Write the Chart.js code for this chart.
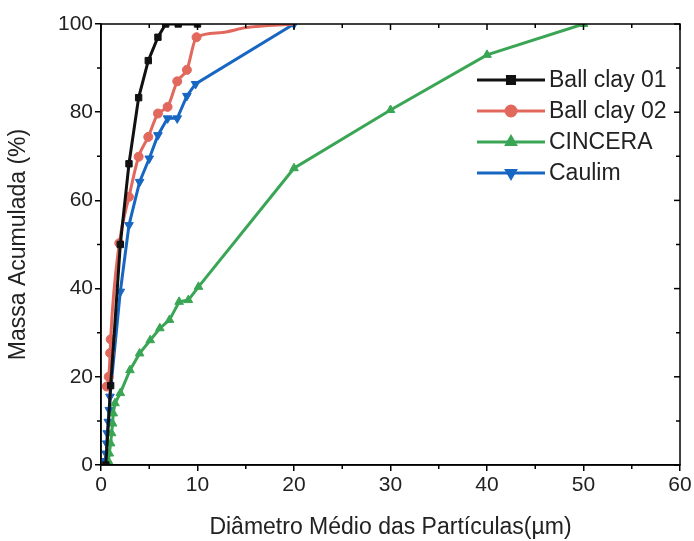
<!DOCTYPE html>
<html>
<head>
<meta charset="utf-8">
<script src="https://cdn.jsdelivr.net/npm/chart.js@4"></script>
<style>
  body { margin: 0; background: #fff; }
  #wrap { width: 694px; height: 541px; }
</style>
</head>
<body>
<div id="wrap"><canvas id="psdChart" width="694" height="541"></canvas></div>
<script>
// Werte
const seriesNames = ["Ball clay 01", "Ball clay 02", "CINCERA", "Caulim"];

const ballClay01X = [0.5, 1, 2, 2.9, 3.9, 4.9, 5.9, 6.7, 8, 10];
const ballClay01Y = [0, 18, 50, 68.3, 83.3, 91.7, 97, 100, 100, 100];

// letzte drei Punkte nur Kurvenverlauf, ohne Marker
const ballClay02X = [0.6, 0.8, 0.95, 1.0, 1.9, 2.9, 3.9, 4.9, 5.9, 6.9, 7.9, 8.9, 9.9, 12.3, 15.1, 20];
const ballClay02Y = [17.8, 20, 25.4, 28.5, 50.3, 60.8, 69.9, 74.4, 79.7, 81.2, 87, 89.6, 97, 98, 99.2, 100];
const ballClay02Marker = [1, 1, 1, 1, 1, 1, 1, 1, 1, 1, 1, 1, 1, 0, 0, 0];

const cinceraX = [0.76, 0.86, 1.0, 1.1, 1.2, 1.27, 1.45, 2.0, 3.0, 4.0, 5.1, 6.1, 7.1, 8.1, 9.05, 10.1, 20, 30, 40, 50];
const cinceraY = [0.9, 2.6, 4.9, 7.2, 9.4, 11.7, 14, 16.3, 21.5, 25.3, 28.3, 31, 32.9, 37, 37.4, 40.4, 67.3, 80.5, 93, 100];

const caulimX = [0.41, 0.52, 0.59, 0.65, 0.76, 0.86, 0.93, 2.0, 2.9, 4.0, 5.0, 5.9, 6.9, 7.9, 8.9, 9.8, 20];
const caulimY = [0.9, 2.6, 4.9, 7.2, 9.8, 12.5, 15.5, 39.3, 54.4, 64.2, 69.5, 74.8, 78.6, 78.6, 83.7, 86.4, 100];

const xTicks = [0, 10, 20, 30, 40, 50, 60];
const yTicks = [0, 20, 40, 60, 80, 100];

const colors = ["#111111", "#e2685d", "#3aa655", "#1766c2"];
const fontName = "'Liberation Sans', Arial, sans-serif";

function toPoints(xs, ys) {
    return xs.map((x, i) => ({ x: x, y: ys[i] }))
}

//Rahmen, Nebenticks und innere Ticks oben/rechts
const frameTicks = {
    id: 'frameTicks',
    afterDraw(chart) {
        const ctx = chart.ctx
        const a = chart.chartArea
        const xs = chart.scales.x
        const ys = chart.scales.y
        ctx.save()
        ctx.strokeStyle = "#000"
        ctx.lineWidth = 1.5
        ctx.strokeRect(a.left, a.top, a.right - a.left, a.bottom - a.top)
        for (let v = 0; v <= 60; v += 5) {
            let px = xs.getPixelForValue(v)
            let major = v % 10 === 0
            ctx.beginPath()
            ctx.moveTo(px, a.top)
            ctx.lineTo(px, a.top + (major ? 6 : 4))
            if (!major) {
                ctx.moveTo(px, a.bottom)
                ctx.lineTo(px, a.bottom + 4)
            }
            ctx.stroke()
        }
        for (let v = 0; v <= 100; v += 10) {
            let py = ys.getPixelForValue(v)
            let major = v % 20 === 0
            ctx.beginPath()
            ctx.moveTo(a.right, py)
            ctx.lineTo(a.right - (major ? 6 : 4), py)
            if (!major) {
                ctx.moveTo(a.left, py)
                ctx.lineTo(a.left - 4, py)
            }
            ctx.stroke()
        }
        ctx.restore()
    }
}

//Legende mit Linie und Marker
const lineLegend = {
    id: 'lineLegend',
    afterDraw(chart) {
        const ctx = chart.ctx
        ctx.save()
        let top = 80
        chart.data.datasets.forEach((ds, i) => {
            let y = top + i * 31
            ctx.strokeStyle = ds.borderColor
            ctx.lineWidth = 3
            ctx.beginPath()
            ctx.moveTo(477, y)
            ctx.lineTo(545, y)
            ctx.stroke()
            Chart.helpers.drawPoint(ctx, {
                pointStyle: ds.pointStyle,
                radius: 5,
                rotation: ds.pointRotation || 0,
                borderWidth: 1
            }, 511, y)
            ctx.fillStyle = ds.borderColor
            ctx.fill()
            ctx.fillStyle = "#222"
            ctx.font = "23px " + fontName
            ctx.textBaseline = "middle"
            ctx.fillText(ds.label, 549, y + 1)
        })
        ctx.restore()
    }
}

const canvas = document.getElementById("psdChart")
let psdChart = new Chart(canvas, {
    type: "line",
    data: {
        datasets: [
            {
                label: seriesNames[0],
                data: toPoints(ballClay01X, ballClay01Y),
                borderColor: colors[0],
                backgroundColor: colors[0],
                pointStyle: 'rect',
                pointRadius: 4.5
            },
            {
                label: seriesNames[1],
                data: toPoints(ballClay02X, ballClay02Y),
                borderColor: colors[1],
                backgroundColor: colors[1],
                pointStyle: 'circle',
                pointRadius: ballClay02Marker.map(m => m ? 4.5 : 0),
                cubicInterpolationMode: 'monotone'
            },
            {
                label: seriesNames[2],
                data: toPoints(cinceraX, cinceraY),
                borderColor: colors[2],
                backgroundColor: colors[2],
                pointStyle: 'triangle',
                pointRadius: 5
            },
            {
                label: seriesNames[3],
                data: toPoints(caulimX, caulimY),
                borderColor: colors[3],
                backgroundColor: colors[3],
                pointStyle: 'triangle',
                pointRotation: 180,
                pointRadius: 5
            }
        ]
    },
    options: {
        responsive: false,
        animation: false,
        layout: {
            padding: { top: 24, right: 14, left: 0, bottom: 0 }
        },
        elements: {
            line: { borderWidth: 3 },
            point: { borderWidth: 1 }
        },
        plugins: {
            legend: { display: false },
            tooltip: { enabled: false }
        },
        scales: {
            x: {
                type: 'linear',
                min: 0,
                max: 60,
                afterFit: (scale) => { scale.height = 76 },
                border: { color: "#000", width: 1.5 },
                grid: { drawOnChartArea: false, tickLength: 6, color: "#000", lineWidth: 1.5 },
                ticks: {
                    stepSize: 10,
                    autoSkip: false,
                    maxRotation: 0,
                    color: "#222",
                    font: { family: fontName, size: 21 },
                    padding: 2,
                    callback: (v) => xTicks.includes(v) ? v : ''
                },
                title: {
                    display: true,
                    text: "Diâmetro Médio das Partículas(µm)",
                    color: "#222",
                    font: { family: fontName, size: 23 },
                    padding: { top: 0, bottom: 0 }
                }
            },
            y: {
                min: 0,
                max: 100,
                afterFit: (scale) => { scale.width = 101 },
                border: { color: "#000", width: 1.5 },
                grid: { drawOnChartArea: false, tickLength: 6, color: "#000", lineWidth: 1.5 },
                ticks: {
                    stepSize: 20,
                    autoSkip: false,
                    color: "#222",
                    font: { family: fontName, size: 21 },
                    padding: 2,
                    callback: (v) => yTicks.includes(v) ? v : ''
                },
                title: {
                    display: true,
                    text: "Massa Acumulada (%)",
                    color: "#222",
                    font: { family: fontName, size: 23 },
                    padding: { top: 5, bottom: 0 }
                }
            }
        }
    },
    plugins: [frameTicks, lineLegend]
})
</script>
</body>
</html>
